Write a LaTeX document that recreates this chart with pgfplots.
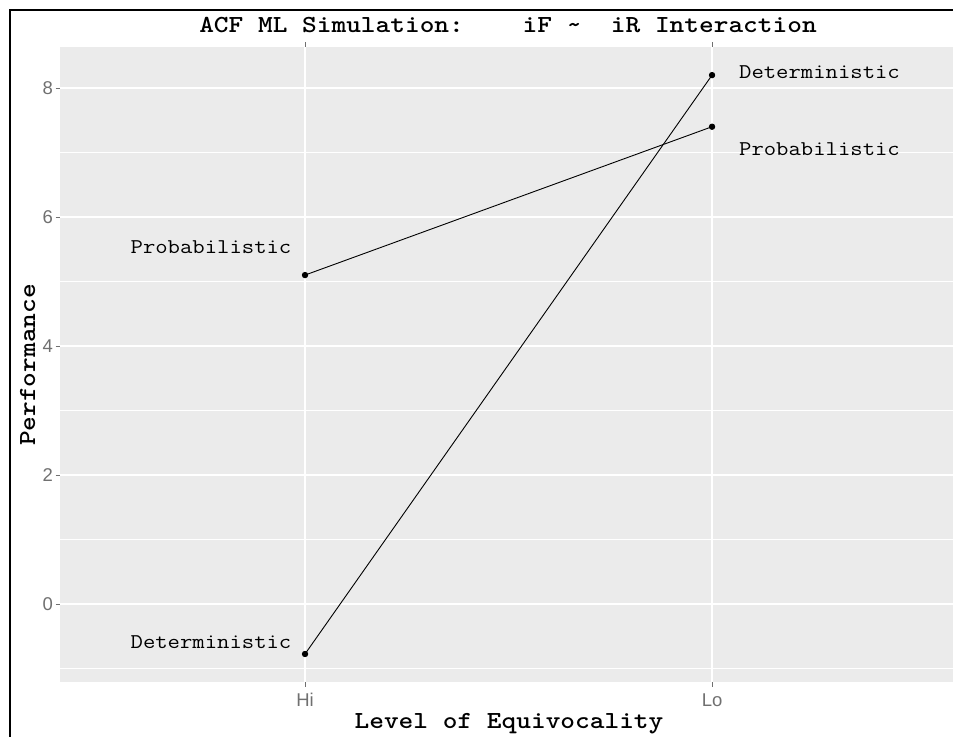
\documentclass[border=0pt]{standalone}
\usepackage{fontspec}
\setsansfont{Liberation Sans}
\usepackage{graphicx}
\usepackage{pgfplots}
\pgfplotsset{compat=1.18}
\definecolor{panel}{HTML}{EBEBEB}
\definecolor{tickgray}{HTML}{707070}
\newcommand\cw[1]{\scalebox{1.143}[1]{#1}}
\newcommand\lblfont{\ttfamily\fontsize{21bp}{24bp}\selectfont}
\newcommand\bigfont{\ttfamily\bfseries\fontsize{24.5bp}{28bp}\selectfont}
\begin{document}
\begin{tikzpicture}
\useasboundingbox (-60bp,-55bp) rectangle (893bp,682bp);
\begin{axis}[
  at={(0,0)}, anchor=south west,
  scale only axis, width=893bp, height=635bp,
  xmin=0.398, xmax=2.592, ymin=-1.209, ymax=8.636,
  axis background/.style={fill=panel},
  axis line style={draw=none},
  xtick={1,2}, xticklabels={Hi,Lo},
  ytick={0,2,4,6,8},
  minor ytick={-1,1,3,5,7},
  xmajorgrids, ymajorgrids, yminorgrids,
  major grid style={white, line width=1.6bp},
  minor grid style={white, line width=0.8bp},
  tick align=outside,
  major tick length=4.5bp, minor tick length=0pt,
  tick style={tickgray, line width=1bp},
  /pgf/number format/assume math mode=true,
  ticklabel style={font=\sffamily\fontsize{18.5bp}{20bp}\selectfont, text=tickgray},
  yticklabel style={anchor=east, inner sep=0pt, xshift=-2.5bp},
  xticklabel style={anchor=base, inner sep=0pt, yshift=-20bp},
]
\addplot[black, line width=0.9bp, mark=*, mark size=2.7bp] coordinates {(1,5.10) (2,7.40)};
\addplot[black, line width=0.9bp, mark=*, mark size=2.7bp] coordinates {(1,-0.775) (2,8.20)};
\node[font=\lblfont, anchor=base] at (axis cs:0.769,5.442) {\cw{Probabilistic}};
\node[font=\lblfont, anchor=base] at (axis cs:0.769,-0.682) {\cw{Deterministic}};
\node[font=\lblfont, anchor=base] at (axis cs:2.264,8.155) {\cw{Deterministic}};
\node[font=\lblfont, anchor=base] at (axis cs:2.264,6.96) {\cw{Probabilistic}};
\end{axis}
\node[anchor=base, font=\bigfont] at (448bp,649bp) {\cw{ACF ML Simulation:\ \ \ \ iF \textasciitilde\ \ iR Interaction}};
\node[anchor=base, font=\bigfont] at (449bp,-46bp) {\cw{Level of Equivocality}};
\node[anchor=base, rotate=90, font=\bigfont] at (-25bp,317bp) {\cw{Performance}};
\draw[line width=2bp] (-50bp,-60bp) -- (-50bp,672bp) -- (900bp,672bp);
\end{tikzpicture}
\end{document}
